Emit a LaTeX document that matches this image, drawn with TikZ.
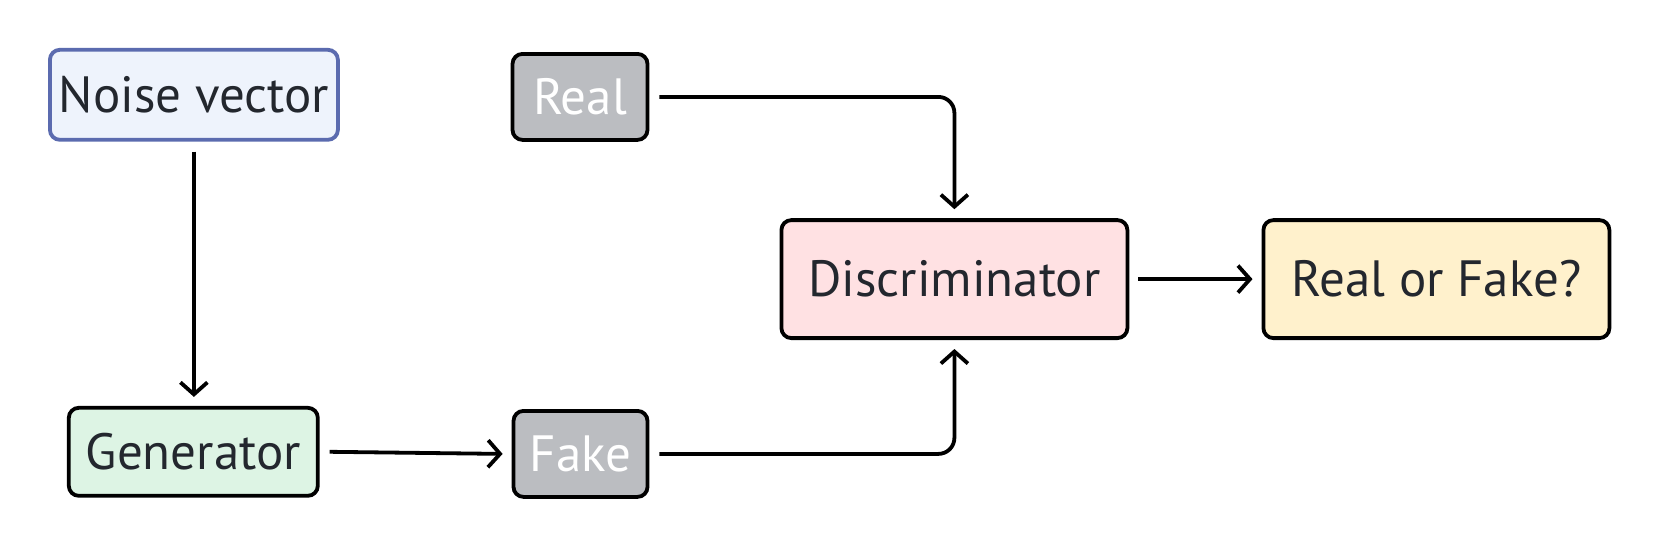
\documentclass[tikz,border=0pt]{standalone}
\usepackage{fontspec}
\setmainfont{PT Sans}
\usetikzlibrary{arrows.meta,calc}
\definecolor{txt}{HTML}{23272E}
\definecolor{noiseB}{HTML}{5B6BAF}
\definecolor{noiseF}{HTML}{EEF3FC}
\definecolor{grayF}{HTML}{BBBDC1}
\definecolor{genF}{HTML}{DDF4E4}
\definecolor{discF}{HTML}{FFE1E3}
\definecolor{outF}{HTML}{FFF1CC}
\tikzset{
  box/.style={draw=black, line width=3.8pt, rounded corners=10pt, inner sep=0pt,
    font=\fontsize{51}{58}\selectfont, text=txt, align=center},
  arr/.style={line width=3.8pt, -{Straight Barb[length=12pt,width=27pt,line width=3.8pt]}},
}
\begin{document}
\begin{tikzpicture}[x=1pt,y=-1pt]
\useasboundingbox (0,0) rectangle (1661,549);
\node[box, draw=noiseB, fill=noiseF, minimum width=288pt, minimum height=90pt] (noise) at (193.9,94.8) {Noise vector};
\node[box, fill=grayF, text=white, minimum width=135pt, minimum height=86pt] (real) at (580,96.9) {Real};
\node[box, fill=genF, minimum width=249pt, minimum height=88pt] (gen) at (193.3,451.8) {Generator};
\node[box, fill=grayF, text=white, minimum width=134pt, minimum height=86pt] (fake) at (580.5,453.9) {Fake};
\node[box, fill=discF, minimum width=346pt, minimum height=118pt] (disc) at (954.4,279.1) {Discriminator};
\node[box, fill=outF, minimum width=346pt, minimum height=118pt] (out) at (1436.4,279.1) {Real or Fake?};
\draw[arr] ([yshift=-10pt]noise.south) -- ([yshift=9pt]noise.south |- gen.north);
\draw[arr] ([xshift=10pt]gen.east) -- ([xshift=-9pt]fake.west);
\draw[arr, rounded corners=16pt] ([xshift=10pt]real.east) -| ([yshift=9pt]disc.north);
\draw[arr, rounded corners=16pt] ([xshift=10pt]fake.east) -| ([yshift=-9pt]disc.south);
\draw[arr] ([xshift=9pt]disc.east) -- ([xshift=-9pt]out.west);
\end{tikzpicture}
\end{document}
